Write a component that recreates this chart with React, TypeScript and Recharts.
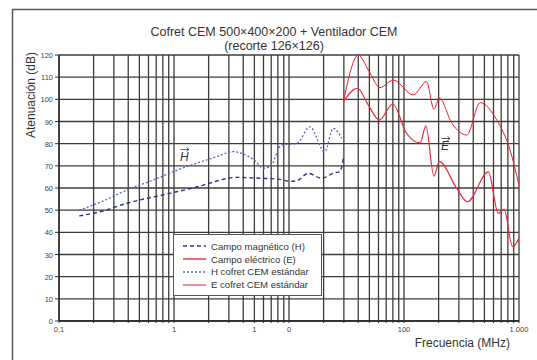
import React from 'react';
import { LineChart, Line, XAxis, YAxis, CartesianGrid } from 'recharts';

// ---- Data (frequency in MHz, attenuation in dB) ----
const hVentFreq = [0.15, 0.227, 0.39, 0.506, 0.92, 1.8, 2.05, 3.5, 5.6, 8.3, 10.2, 11.7, 14.7, 19.2, 25, 27.7, 29.7];
const hVentDb = [47.4, 49.3, 53.1, 54.6, 57.6, 61.3, 62.2, 64.8, 64.4, 63.9, 63.0, 63.3, 66.6, 64.4, 66.9, 67.3, 73.4];

const hStdFreq = [0.15, 0.227, 0.39, 0.66, 1.0, 2.35, 3.28, 3.88, 5.0, 5.98, 6.84, 8.63, 11.7, 15.2, 20.4, 24.3, 28.7];
const hStdDb = [50, 53.5, 59.1, 63.6, 67.5, 74.1, 76.4, 75.6, 72.5, 68.9, 69.6, 79.4, 80.1, 87.6, 76.4, 86.9, 82.4];

const eVentFreq = [29.7, 39.3, 49, 61, 79.8, 105, 138, 155, 182, 203, 287, 356, 541, 661, 741, 881, 1000];
const eVentDb = [98.9, 105, 97.4, 90.7, 97.9, 84.7, 80.4, 88, 65.4, 71.9, 59.9, 53.8, 67.3, 48.6, 50.4, 33.5, 37.3];

const eStdFreq = [29.7, 40.1, 49, 61.8, 80.7, 120.5, 157, 182, 203, 261, 351, 460, 640, 836, 1000];
const eStdDb = [98.9, 120, 113.2, 105.3, 108.7, 102, 108, 95.6, 100.5, 89.2, 83.9, 98.5, 90.7, 77.1, 61.3];

const yTicks = [0, 10, 20, 30, 40, 50, 60, 70, 80, 90, 100, 110, 120];
const decades = [0.1, 1, 10, 100];
const multipliers = [1, 2, 3, 4, 5, 6, 7, 8, 9];
const xTickLabels: [number, string][] = [
  [0.1, '0,1'],
  [1, '1'],
  [5, '1'],
  [10, '0'],
  [100, '100'],
  [1000, '1.000'],
];

const titleLine1 = 'Cofret CEM 500×400×200 + Ventilador CEM';
const titleLine2 = '(recorte 126×126)';
const yLabel = 'Atenuación (dB)';
const xLabel = 'Frecuencia (MHz)';

const seriesNames = {
  hVent: 'Campo magnético (H)',
  eVent: 'Campo eléctrico (E)',
  hStd: 'H cofret CEM estándar',
  eStd: 'E cofret CEM estándar',
};

// ---- Build tables ----
const zip = (f: number[], d: number[]) => f.map((x, i) => ({ f: x, db: d[i] }));
const hVentData = zip(hVentFreq, hVentDb);
const hStdData = zip(hStdFreq, hStdDb);
const eVentData = zip(eVentFreq, eVentDb);
const eStdData = zip(eStdFreq, eStdDb);

const xTicks: number[] = [];
decades.forEach((d) => multipliers.forEach((m) => xTicks.push(Number((d * m).toPrecision(3)))));
xTicks.push(1000);

const labelFor = (v: number) => {
  const hit = xTickLabels.find(([k]) => Math.abs(k - v) < 1e-9 * Math.max(1, k));
  return hit ? hit[1] : '';
};

const FONT = '"Liberation Sans", Arial, Helvetica, sans-serif';

const XTick = (props: any) => {
  const { x, y, payload } = props;
  const lab = labelFor(payload.value);
  if (!lab) return <g />;
  return (
    <text x={x} y={y} dy={7} textAnchor="middle" fontSize={7.5} fill="#444" fontFamily={FONT}>
      {lab}
    </text>
  );
};

const YTick = (props: any) => {
  const { x, y, payload } = props;
  return (
    <text x={x} y={y} dy={3} textAnchor="end" fontSize={7.5} fill="#444" fontFamily={FONT}>
      {payload.value}
    </text>
  );
};

const legendItems = [
  { name: seriesNames.hVent, color: '#28308e', width: 1.4, dash: '4 3' },
  { name: seriesNames.eVent, color: '#f26a72', width: 2, dash: undefined },
  { name: seriesNames.hStd, color: '#6266c4', width: 1.4, dash: '2 2' },
  { name: seriesNames.eStd, color: '#ec1c2c', width: 1, dash: undefined },
];

const LegendBox = () => (
  <div
    style={{
      position: 'absolute',
      left: 173,
      top: 234,
      width: 149,
      height: 62,
      background: '#fff',
      border: '1px solid #555',
      boxSizing: 'border-box',
      paddingTop: 5,
      fontFamily: FONT,
    }}
  >
    {legendItems.map((it) => (
      <div key={it.name} style={{ display: 'flex', alignItems: 'center', height: 12.8 }}>
        <svg width={36} height={10} style={{ flex: 'none' }}>
          <line x1={9} y1={5} x2={32} y2={5} stroke={it.color} strokeWidth={it.width} strokeDasharray={it.dash} />
        </svg>
        <span style={{ fontSize: 9.6, color: '#333', whiteSpace: 'nowrap', marginLeft: 1 }}>{it.name}</span>
      </div>
    ))}
  </div>
);

export default function App() {
  return (
    <div
      style={{
        position: 'absolute',
        left: 0,
        top: 0,
        width: 537,
        height: 360,
        background: '#fff',
        overflow: 'hidden',
        fontFamily: FONT,
      }}
    >
      <svg width={537} height={360} style={{ position: 'absolute', left: 0, top: 0 }}>
        <rect x={12.5} y={9.5} width={540} height={360} fill="none" stroke="#555" strokeWidth={1.5} />
      </svg>
      <div style={{ position: 'absolute', left: 0, top: 0 }}>
        <LineChart width={537} height={360} margin={{ top: 55, right: 18, bottom: 19, left: 12 }}>
          <CartesianGrid stroke="#3c3c3c" strokeWidth={1.3} />
          <XAxis
            dataKey="f"
            type="number"
            scale="log"
            domain={[0.1, 1000]}
            ticks={xTicks}
            interval={0}
            allowDataOverflow
            height={20}
            tick={<XTick />}
            tickSize={2}
            tickLine={{ stroke: '#333' }}
            axisLine={{ stroke: '#222', strokeWidth: 1.3 }}
          />
          <YAxis
            type="number"
            domain={[0, 120]}
            ticks={yTicks}
            interval={0}
            width={47}
            tick={<YTick />}
            tickSize={4}
            tickMargin={2}
            tickLine={{ stroke: '#333' }}
            axisLine={{ stroke: '#222', strokeWidth: 1.3 }}
          />
          <Line
            data={hVentData}
            dataKey="db"
            name={seriesNames.hVent}
            type="monotone"
            stroke="#28308e"
            strokeWidth={1.4}
            strokeDasharray="4 3"
            dot={false}
            isAnimationActive={false}
          />
          <Line
            data={eVentData}
            dataKey="db"
            name={seriesNames.eVent}
            type="monotone"
            stroke="#ee2a3a"
            strokeWidth={1.2}
            dot={false}
            isAnimationActive={false}
          />
          <Line
            data={hStdData}
            dataKey="db"
            name={seriesNames.hStd}
            type="monotone"
            stroke="#5a5fc0"
            strokeWidth={1.3}
            strokeDasharray="2 2"
            dot={false}
            isAnimationActive={false}
          />
          <Line
            data={eStdData}
            dataKey="db"
            name={seriesNames.eStd}
            type="monotone"
            stroke="#ec1c2c"
            strokeWidth={1}
            dot={false}
            isAnimationActive={false}
          />
        </LineChart>
      </div>
      <LegendBox />
      <svg width={537} height={360} style={{ position: 'absolute', left: 0, top: 0, pointerEvents: 'none' }}>
        <text x={274} y={36} textAnchor="middle" fontSize={12.5} fill="#333" fontFamily={FONT}>
          {titleLine1}
        </text>
        <text x={274} y={50} textAnchor="middle" fontSize={12.5} fill="#333" fontFamily={FONT}>
          {titleLine2}
        </text>
        <text
          x={0}
          y={0}
          transform="translate(35,95) rotate(-90)"
          textAnchor="middle"
          fontSize={12}
          fill="#333"
          fontFamily={FONT}
        >
          {yLabel}
        </text>
        <text x={510} y={347} textAnchor="end" fontSize={12} fill="#333" fontFamily={FONT}>
          {xLabel}
        </text>
        <text x={180} y={161} fontSize={12} fontStyle="italic" fill="#333" fontFamily={FONT}>
          H
        </text>
        <path d="M180.5 149.5 H189 M186.5 147.5 L189 149.5 L186.5 151.5" stroke="#333" strokeWidth={0.8} fill="none" />
        <text x={441} y={150} fontSize={12} fontStyle="italic" fill="#333" fontFamily={FONT}>
          E
        </text>
        <path d="M441.5 138.5 H450 M447.5 136.5 L450 138.5 L447.5 140.5" stroke="#333" strokeWidth={0.8} fill="none" />
      </svg>
    </div>
  );
}
